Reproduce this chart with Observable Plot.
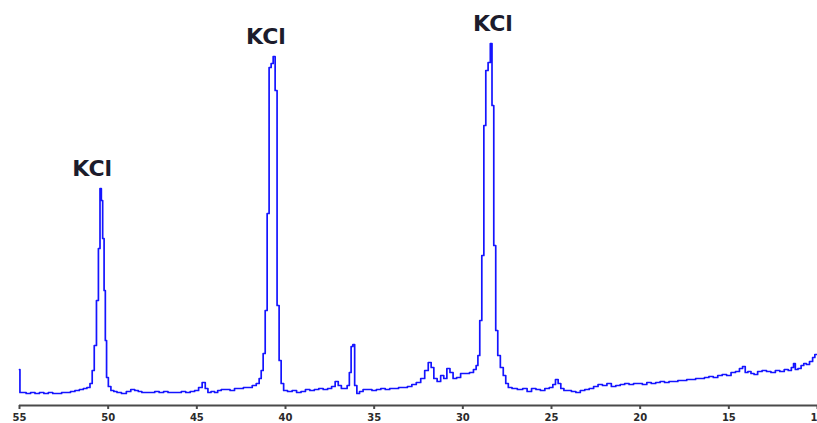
<!DOCTYPE html>
<html>
<head>
<meta charset="utf-8">
<script src="https://cdn.jsdelivr.net/npm/d3@7"></script>
<script src="https://cdn.jsdelivr.net/npm/@observablehq/plot@0.6"></script>
<style>
  html, body { margin: 0; padding: 0; background: #fff; }
  #chart svg { display: block; }
</style>
</head>
<body>
<div id="chart"></div>
<script>
// XRD pattern: 2θ (degrees, plotted right-to-left) and intensity (arbitrary units)
const twoTheta = [
  55.0, 54.95, 54.75, 54.5, 54.25, 54.0, 53.75, 53.5, 53.25, 53.0, 52.75, 52.5, 52.25, 52.0, 51.75, 51.5, 51.3, 51.1,
  50.95, 50.85, 50.72, 50.6, 50.5, 50.42, 50.35, 50.27, 50.19, 50.13, 50.05, 49.93, 49.76, 49.6, 49.4, 49.1, 48.85,
  48.6, 48.4, 48.2, 48.0, 47.75, 47.5, 47.25, 47.0, 46.75, 46.5, 46.25, 46.0, 45.75, 45.5, 45.25, 45.0, 44.8, 44.6,
  44.45, 44.3, 44.1, 43.9, 43.75, 43.5, 43.25, 43.0, 42.75, 42.5, 42.25, 42.0, 41.75, 41.55, 41.42, 41.32, 41.2,
  41.09, 40.98, 40.87, 40.75, 40.64, 40.53, 40.42, 40.3, 40.19, 40.02, 39.75, 39.5, 39.25, 39.0, 38.75, 38.5, 38.25,
  38.0, 37.75, 37.5, 37.3, 37.1, 36.95, 36.75, 36.6, 36.45, 36.35, 36.25, 36.15, 36.05, 35.9, 35.75, 35.5, 35.25,
  35.0, 34.75, 34.5, 34.25, 34.0, 33.75, 33.5, 33.25, 33.0, 32.75, 32.5, 32.25, 32.05, 31.85, 31.72, 31.55, 31.35,
  31.15, 31.0, 30.8, 30.65, 30.45, 30.25, 30.0, 29.75, 29.5, 29.3, 29.2, 29.1, 28.99, 28.87, 28.76, 28.65, 28.5,
  28.4, 28.31, 28.2, 28.09, 27.97, 27.8, 27.64, 27.52, 27.35, 27.1, 26.75, 26.5, 26.25, 26.0, 25.75, 25.5, 25.25,
  25.0, 24.85, 24.7, 24.55, 24.4, 24.2, 24.0, 23.75, 23.5, 23.25, 23.0, 22.75, 22.5, 22.25, 22.0, 21.75, 21.5,
  21.25, 21.0, 20.75, 20.5, 20.25, 20.0, 19.75, 19.5, 19.25, 19.0, 18.75, 18.5, 18.25, 18.0, 17.75, 17.5, 17.25,
  17.0, 16.75, 16.5, 16.25, 16.0, 15.75, 15.5, 15.25, 15.0, 14.75, 14.5, 14.3, 14.15, 14.0, 13.85, 13.65, 13.5,
  13.25, 13.0, 12.75, 12.5, 12.25, 12.0, 11.75, 11.55, 11.4, 11.3, 11.2, 11.0, 10.85, 10.7, 10.55, 10.35, 10.2,
  10.1, 10.05
];
const intensity = [
  36, 13, 13, 12, 13, 12, 13, 12, 13, 12, 12, 13, 13, 14, 15, 16, 17, 18,
  22, 35, 60, 105, 157, 217, 205, 167, 115, 65, 28, 19, 15, 14, 13, 12, 14,
  16, 15, 14, 13, 13, 13, 14, 13, 14, 13, 13, 13, 14, 13, 14, 15, 18, 23,
  17, 13, 14, 13, 15, 16, 16, 15, 17, 17, 18, 18, 20, 22, 27, 35, 52,
  95, 192, 338, 342, 349, 315, 100, 45, 22, 15, 14, 15, 13, 14, 16, 15, 16,
  17, 16, 17, 19, 24, 20, 17, 17, 20, 33, 59, 61, 20, 12, 14, 16, 16,
  15, 16, 17, 16, 17, 17, 18, 18, 19, 21, 23, 27, 35, 43, 38, 27, 24,
  30, 27, 37, 33, 27, 28, 32, 32, 33, 36, 40, 50, 85, 150, 280, 335, 343,
  362, 300, 160, 75, 50, 38, 30, 22, 18, 17, 16, 17, 14, 17, 16, 15, 17,
  18, 21, 26, 22, 17, 15, 15, 14, 13, 15, 16, 17, 19, 21, 20, 22, 19,
  20, 21, 22, 21, 22, 22, 21, 23, 22, 23, 24, 23, 24, 24, 25, 25, 26,
  26, 27, 27, 28, 29, 28, 30, 31, 30, 33, 34, 37, 39, 33, 34, 32, 31,
  34, 35, 34, 33, 35, 34, 36, 35, 38, 42, 36, 37, 40, 42, 41, 44, 48,
  51, 51
];

// Peak annotations
const peakLabels = ["KCl", "KCl", "KCl"];
const peakLabel2Theta = [50.9, 41.1, 28.3];
const peakIntensity = [217, 349, 362];

// Axis ticks
const xTicks = [55, 50, 45, 40, 35, 30, 25, 20, 15, 10];

const pattern = twoTheta.map((t, i) => ({t, v: intensity[i]}));
const peaks = peakLabels.map((s, i) => ({s, t: peakLabel2Theta[i], v: peakIntensity[i]}));

const chart = Plot.plot({
  width: 817,
  height: 423,
  marginLeft: 19,
  marginRight: 0,
  marginTop: 0,
  marginBottom: 18,
  style: {background: "#fff", overflow: "visible"},
  x: {domain: [55, 10]},
  y: {domain: [0, 405], axis: null},
  marks: [
    Plot.ruleY([0], {stroke: "#4a4a4a", strokeWidth: 2}),
    Plot.axisX({
      ticks: xTicks,
      tickSize: 4,
      tickPadding: 4,
      tickFormat: d => String(d),
      stroke: "#4a4a4a",
      strokeWidth: 2,
      fill: "#2a2a2a",
      fontSize: 10,
      fontWeight: "bold",
      fontFamily: "DejaVu Sans",
      label: null
    }),
    Plot.line(pattern, {x: "t", y: "v", stroke: "#1414ff", strokeWidth: 1.7, curve: "step"}),
    Plot.text(peaks, {
      x: "t", y: "v", text: "s", dy: -20,
      fontSize: 22, fontWeight: "bold", fontFamily: "DejaVu Sans",
      fill: "#1c1c2c", letterSpacing: "4px"
    })
  ]
});
document.getElementById("chart").appendChild(chart);
</script>
</body>
</html>
